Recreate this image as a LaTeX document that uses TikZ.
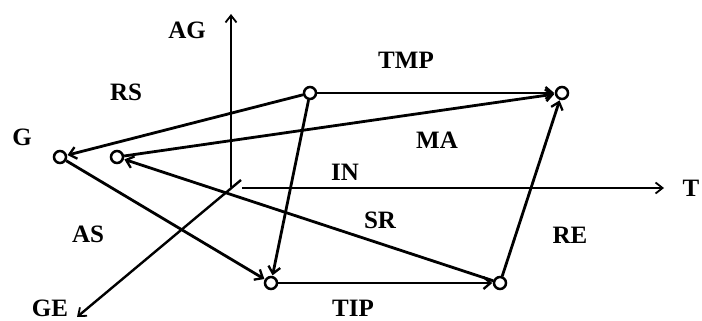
\documentclass[tikz,border=0pt]{standalone}
\usepackage{fontspec}
\setmainfont{Liberation Serif}
\usetikzlibrary{arrows.meta}
\begin{document}
\begin{tikzpicture}[x=1pt,y=-1pt,
  dot/.style={circle,draw,line width=2.5pt,inner sep=0pt,minimum size=12pt,fill=white},
  edge/.style={line width=2.8pt,-{Straight Barb[length=7pt,width=12pt,line width=2.3pt]},shorten >=0.5pt},
  axis/.style={line width=1.8pt,-{Straight Barb[length=7pt,width=11pt,line width=1.8pt]}},
  lab/.style={font=\fontsize{25}{25}\selectfont\bfseries,inner sep=0pt}]
\useasboundingbox (0,0) rectangle (702,321);
% axes
\coordinate (v0) at (231,187);
\coordinate (v1) at (231,14);
\coordinate (h0) at (242,188);
\coordinate (h1) at (664,188);
\coordinate (d0) at (241,180);
\coordinate (d1) at (77,317);
\draw[axis] (v0) -- (v1);
\draw[axis] (h0) -- (h1);
\draw[axis,line width=2.4pt] (d0) -- (d1);
% nodes
\node[dot] (A) at (310,93) {};
\node[dot] (B) at (562,93) {};
\node[dot] (G1) at (60,157) {};
\node[dot] (G2) at (117,157) {};
\node[dot] (C) at (271,283) {};
\node[dot] (D) at (500,283) {};
% edges
\draw[edge] (A) -- (G1);
\draw[edge] (A) -- (B);
\draw[edge] (A) -- (C);
\draw[edge] (G2) -- (B);
\draw[edge] (D) -- (G2);
\draw[edge] (G1) -- (C);
\draw[edge] (C) -- (D);
\draw[edge] (D) -- (B);
% labels
\node[lab] (lAG) at (187,30) {AG};
\node[lab] (lRS) at (126,92) {RS};
\node[lab] (lG) at (22,137) {G};
\node[lab] (lTMP) at (406,60) {TMP};
\node[lab] (lMA) at (437,140) {MA};
\node[lab] (lIN) at (345,172) {IN};
\node[lab] (lT) at (691,188) {T};
\node[lab] (lAS) at (88,234) {AS};
\node[lab] (lSR) at (380,220) {SR};
\node[lab] (lRE) at (570,235) {RE};
\node[lab] (lGE) at (50,308) {GE};
\node[lab] (lTIP) at (353,308) {TIP};
\end{tikzpicture}
\end{document}
